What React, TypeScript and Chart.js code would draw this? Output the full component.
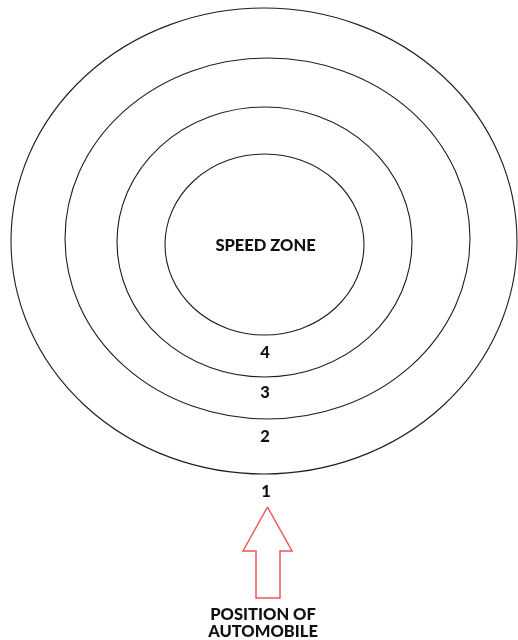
import React, { useEffect, useRef } from "react";
import { Chart, registerables } from "chart.js";

Chart.register(...registerables);

// Concentric speed-zone rings (outer to inner), in diagram units
const ringNames = ["ring1", "ring2", "ring3", "ring4"];
const ringCx = [264, 267.5, 264.5, 264.5];
const ringCy = [241, 238.5, 242, 244.5];
const ringRx = [253, 202.5, 147.5, 99.5];
const ringRy = [233, 180.5, 135, 90.5];

// Zone number labels
const zoneLabels = ["1", "2", "3", "4"];
const zoneLabelX = [266, 265, 265, 265];
const zoneLabelY = [492, 437, 393, 352.5];

// Center title
const centerTitle = "SPEED ZONE";
const centerTitleX = 265.5;
const centerTitleY = 245.5;

// Arrow outline (position of automobile)
const arrowX = [267.5, 292, 280, 280, 256, 256, 243, 267.5];
const arrowY = [507, 551, 551, 598, 598, 551, 551, 507];

// Bottom caption
const captionLines = ["POSITION OF", "AUTOMOBILE"];
const captionX = 263;
const captionY = [615, 631.5];

const FONT = "900 16.5px Lato, 'Open Sans', sans-serif";

const diagramPlugin = {
  id: "diagram",
  afterDatasetsDraw(chart: any) {
    const { ctx, scales } = chart;
    const xs = scales.x;
    const ys = scales.y;
    ctx.save();
    // rings
    ctx.strokeStyle = "#1e1e1e";
    ctx.lineWidth = 1.1;
    ringNames.forEach((_, i) => {
      const cx = xs.getPixelForValue(ringCx[i]);
      const cy = ys.getPixelForValue(ringCy[i]);
      const rx = Math.abs(xs.getPixelForValue(ringCx[i] + ringRx[i]) - cx);
      const ry = Math.abs(ys.getPixelForValue(ringCy[i] + ringRy[i]) - cy);
      ctx.beginPath();
      ctx.ellipse(cx, cy, rx, ry, 0, 0, Math.PI * 2);
      ctx.stroke();
    });
    // texts
    ctx.fillStyle = "#111111";
    ctx.font = FONT;
    ctx.textAlign = "center";
    ctx.textBaseline = "middle";
    ctx.fillText(centerTitle, xs.getPixelForValue(centerTitleX), ys.getPixelForValue(centerTitleY));
    zoneLabels.forEach((t, i) => {
      ctx.fillText(t, xs.getPixelForValue(zoneLabelX[i]), ys.getPixelForValue(zoneLabelY[i]));
    });
    captionLines.forEach((t, i) => {
      ctx.fillText(t, xs.getPixelForValue(captionX), ys.getPixelForValue(captionY[i]));
    });
    ctx.restore();
  },
};

export default function App() {
  const canvasRef = useRef<HTMLCanvasElement | null>(null);

  useEffect(() => {
    if (!canvasRef.current) return;
    const chart = new Chart(canvasRef.current, {
      type: "scatter",
      data: {
        datasets: [
          {
            label: "arrow",
            data: arrowX.map((x, i) => ({ x, y: arrowY[i] })),
            showLine: true,
            borderColor: "#f0545c",
            borderWidth: 1.5,
            pointRadius: 0,
            fill: false,
            tension: 0,
          },
        ],
      },
      options: {
        responsive: false,
        animation: false,
        layout: { padding: 0 },
        plugins: {
          legend: { display: false },
          tooltip: { enabled: false },
          title: { display: false },
        },
        scales: {
          x: { type: "linear", min: 0, max: 518, display: false },
          y: { type: "linear", min: 0, max: 640, reverse: true, display: false },
        },
      },
      plugins: [diagramPlugin],
    });
    return () => chart.destroy();
  }, []);

  return (
    <div style={{ position: "fixed", left: 0, top: 0, width: 518, height: 640, background: "#ffffff" }}>
      <canvas ref={canvasRef} width={518} height={640} />
    </div>
  );
}
